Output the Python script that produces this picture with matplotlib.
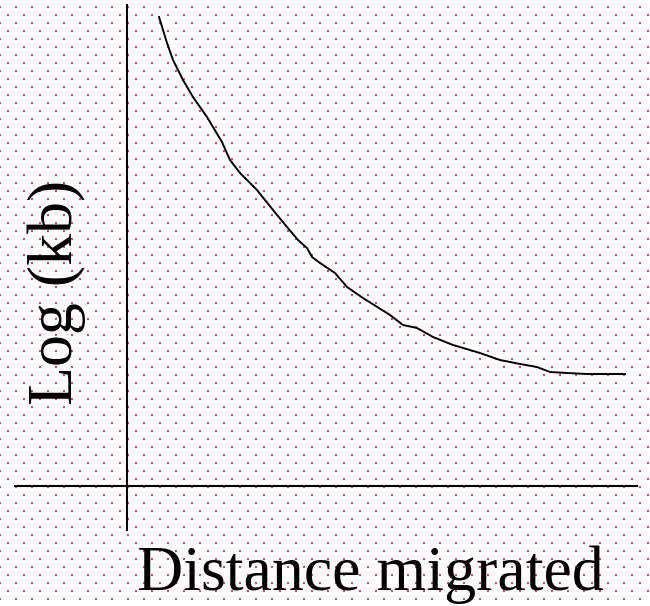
import numpy as np
import matplotlib
matplotlib.use("Agg")
import matplotlib.pyplot as plt

W, H = 650, 606

# curve (arbitrary units, origin where the axes cross)
distance = [0.64, 0.80, 0.92, 1.12, 1.32, 1.60, 1.90, 2.06, 2.26, 2.60, 2.92,
            3.20, 3.42, 3.60, 3.70, 3.86, 4.16, 4.40, 4.72, 5.26, 5.52, 5.80,
            6.12, 6.52, 7.06, 7.46, 7.86, 8.20, 8.46, 8.80, 9.20, 9.96]
log_kb = [9.38, 8.86, 8.52, 8.12, 7.78, 7.38, 6.88, 6.52, 6.26, 5.92, 5.52,
          5.18, 4.92, 4.76, 4.58, 4.46, 4.26, 3.98, 3.76, 3.42, 3.22, 3.16,
          2.98, 2.82, 2.66, 2.52, 2.44, 2.38, 2.28, 2.26, 2.24, 2.24]

x_label = "Distance migrated"
y_label = "Log (kb)"

plt.rcParams['font.family'] = ['Liberation Serif', 'DejaVu Serif']

fig = plt.figure(figsize=(W / 100, H / 100), dpi=100)

# dotted background pattern, one pixel per cell
img = np.ones((H, W, 3))
dot = np.array([226, 62, 122]) / 255
for j, y0 in enumerate(range(6, H, 8)):
    for x0 in range(-1 + 8 * (j % 2), W, 16):
        img[y0:y0 + 2, max(x0, 0):x0 + 2] = dot

bg = fig.add_axes([0, 0, 1, 1])
bg.imshow(img, interpolation='nearest', aspect='auto', extent=(0, W, H, 0))
bg.axis('off')

ax = fig.add_axes([0, 0, 1, 1])
ax.patch.set_alpha(0)
ax.set_xlim(-127 / 50, (W - 127) / 50)
ax.set_ylim((486 - H) / 50, 486 / 50)
ax.axis('off')

ax.axvline(0, ymin=(H - 530) / H, ymax=(H - 5) / H, color='black', lw=1.5)
ax.axhline(0, xmin=15 / W, xmax=637 / W, color='black', lw=1.5)
ax.plot(distance, log_kb, color='black', lw=1.4)

fig.text(137 / W, 1 - 590 / H, x_label, fontsize=46, ha='left', va='baseline')
fig.text(72 / W, 1 - 405 / H, y_label, fontsize=46, rotation=90,
         rotation_mode='anchor', ha='left', va='baseline')

fig.savefig("out.png", dpi=100)
